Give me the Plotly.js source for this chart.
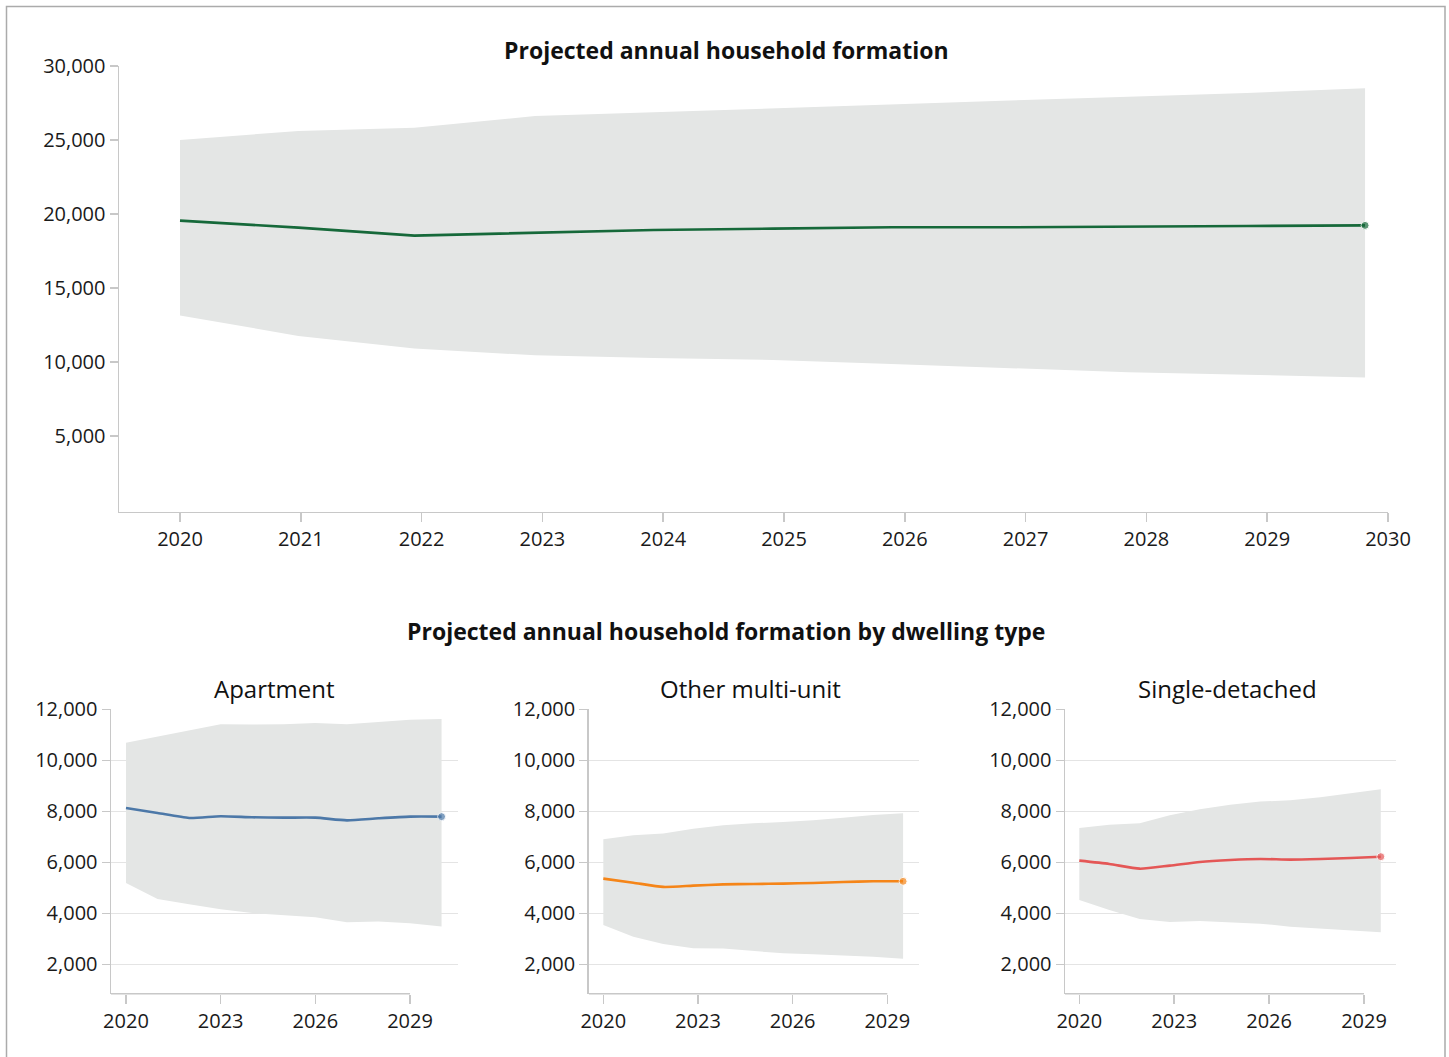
<!DOCTYPE html>
<html>
<head>
<meta charset="utf-8">
<script src="https://cdn.plot.ly/plotly-3.0.1.min.js"></script>
<style>
  html, body { margin: 0; padding: 0; background: #ffffff; overflow: hidden; }
  #chart { width: 1449px; height: 1057px; }
</style>
</head>
<body>
<div id="chart"></div>
<script>
// ---------- Data ----------
const mainTitle = "Projected annual household formation";
const subTitle = "Projected annual household formation by dwelling type";
const panelNames = ["Apartment", "Other multi-unit", "Single-detached"];

// Top chart: total household formation with uncertainty band
const topYears = [2020, 2020.98, 2021.94, 2022.94, 2023.92, 2024.91, 2025.89, 2026.87, 2027.85, 2028.83, 2029.81];
const topMid   = [19550, 19080, 18540, 18740, 18920, 19010, 19100, 19100, 19120, 19190, 19230];
const topLow   = [13150, 11760, 10920, 10450, 10270, 10140, 9870, 9560, 9300, 9140, 8960];
const topHigh  = [25000, 25610, 25830, 26620, 26870, 27140, 27450, 27670, 27930, 28180, 28490];
const topTickYears = [2020, 2021, 2022, 2023, 2024, 2025, 2026, 2027, 2028, 2029, 2030];
const topTickValues = [5000, 10000, 15000, 20000, 25000, 30000];

// Apartment
const aptYears = [2020, 2021, 2022, 2023, 2024, 2025, 2026, 2027, 2028, 2029, 2030];
const aptMid   = [8130, 7935, 7740, 7805, 7765, 7750, 7750, 7645, 7725, 7790, 7790];
const aptLow   = [5190, 4560, 4350, 4160, 4010, 3935, 3845, 3645, 3675, 3610, 3480];
const aptHigh  = [10690, 10930, 11165, 11410, 11400, 11410, 11465, 11410, 11505, 11595, 11620];

// Other multi-unit
const otherYears = [2020, 2020.95, 2021.9, 2022.85, 2023.8, 2024.75, 2025.7, 2026.65, 2027.6, 2028.55, 2029.5];
const otherMid   = [5360, 5200, 5035, 5085, 5135, 5150, 5165, 5190, 5230, 5255, 5255];
const otherLow   = [3540, 3085, 2795, 2625, 2615, 2525, 2430, 2390, 2355, 2300, 2220];
const otherHigh  = [6900, 7060, 7125, 7320, 7450, 7530, 7580, 7645, 7750, 7855, 7920];

// Single-detached
const singleYears = [2020, 2020.95, 2021.91, 2022.86, 2023.81, 2024.77, 2025.72, 2026.67, 2027.62, 2028.58, 2029.53];
const singleMid   = [6065, 5935, 5750, 5870, 6015, 6090, 6130, 6105, 6130, 6170, 6220];
const singleLow   = [4525, 4130, 3780, 3660, 3700, 3645, 3595, 3475, 3410, 3345, 3255];
const singleHigh  = [7345, 7475, 7530, 7845, 8080, 8260, 8380, 8430, 8550, 8705, 8865];

const panelTickYears = [2020, 2023, 2026, 2029];
const panelTickValues = [2000, 4000, 6000, 8000, 10000, 12000];

// ---------- Styling ----------
const W = 1449, H = 1057;
const px = x => x / W;
const py = y => 1 - y / H;
const FONT = '"Open Sans", "Noto Sans", sans-serif';
const AXIS = '#c8c8c8';
const GRID = '#e4e4e4';
const BAND = '#e4e6e5';
const TICKFONT = {family: FONT, size: 20, color: '#1a1a1a'};
const colors = {top: '#16693a', apt: '#4c78a8', other: '#f58518', single: '#e45756'};

function band(x, low, high, xa, ya) {
  return [
    {x: x, y: low, xaxis: xa, yaxis: ya, type: 'scatter', mode: 'lines',
     line: {width: 0, color: BAND}, hoverinfo: 'skip', showlegend: false},
    {x: x, y: high, xaxis: xa, yaxis: ya, type: 'scatter', mode: 'lines',
     line: {width: 0, color: BAND}, fill: 'tonexty', fillcolor: BAND, hoverinfo: 'skip', showlegend: false}
  ];
}
function mid(x, y, xa, ya, color, shape) {
  return {x: x, y: y, xaxis: xa, yaxis: ya, type: 'scatter', mode: 'lines+markers',
    line: {color: color, width: 2.6, shape: shape, smoothing: 0.6},
    marker: {color: color, size: y.map((v, i) => i === y.length - 1 ? 8 : 0)},
    showlegend: false};
}

const traces = [
  ...band(topYears, topLow, topHigh, 'x', 'y'),
  mid(topYears, topMid, 'x', 'y', colors.top, 'linear'),
  ...band(aptYears, aptLow, aptHigh, 'x2', 'y2'),
  mid(aptYears, aptMid, 'x2', 'y2', colors.apt, 'spline'),
  ...band(otherYears, otherLow, otherHigh, 'x3', 'y3'),
  mid(otherYears, otherMid, 'x3', 'y3', colors.other, 'spline'),
  ...band(singleYears, singleLow, singleHigh, 'x4', 'y4'),
  mid(singleYears, singleMid, 'x4', 'y4', colors.single, 'spline')
];

function xAxis(domain, range, tickvals, anchor, showline) {
  return {domain: domain, range: range, tickvals: tickvals, ticktext: tickvals.map(String),
    anchor: anchor, showline: showline, linecolor: AXIS, linewidth: 1.5,
    ticks: 'outside', ticklen: 9, tickcolor: AXIS, tickwidth: 1.5,
    showgrid: false, zeroline: false, tickfont: TICKFONT, fixedrange: true};
}
function yAxis(domain, range, tickvals, anchor, grid) {
  return {domain: domain, range: range, tickvals: tickvals, tickformat: ',d',
    anchor: anchor, showline: true, linecolor: AXIS, linewidth: 1.5,
    ticks: 'outside', ticklen: 8, tickcolor: AXIS, tickwidth: 1.5,
    showgrid: grid, gridcolor: GRID, gridwidth: 1, zeroline: false, tickfont: TICKFONT, fixedrange: true};
}

const panelY = [py(993.7), py(709.3)];
const panelYRange = [847, 12000];
const aptXRange = [2019.525, 2030.511];
const otherXRange = [2019.537, 2030.014];
const singleXRange = [2019.548, 2030.002];

const titleFont = {family: FONT, size: 23, color: '#111'};
const panelFont = {family: FONT, size: 24, color: '#111'};

const layout = {
  width: W, height: H,
  margin: {l: 0, r: 0, t: 0, b: 0},
  paper_bgcolor: 'rgba(0,0,0,0)', plot_bgcolor: 'rgba(0,0,0,0)',
  font: {family: FONT, color: '#1a1a1a'},
  showlegend: false,
  xaxis: xAxis([px(119), px(1388)], [2019.495, 2030.0], topTickYears, 'y', true),
  yaxis: yAxis([py(511.5), py(66)], [-101, 30000], topTickValues, 'x', false),
  xaxis2: xAxis([px(111), px(457.7)], aptXRange, panelTickYears, 'y2', false),
  yaxis2: yAxis(panelY, panelYRange, panelTickValues, 'x2', true),
  xaxis3: xAxis([px(588.7), px(919.3)], otherXRange, panelTickYears, 'y3', false),
  yaxis3: yAxis(panelY, panelYRange, panelTickValues, 'x3', true),
  xaxis4: xAxis([px(1065), px(1395.7)], singleXRange, panelTickYears, 'y4', false),
  yaxis4: yAxis(panelY, panelYRange, panelTickValues, 'x4', true),
  shapes: [
    // outer frame (bottom edge falls outside the picture)
    {type: 'rect', xref: 'paper', yref: 'paper', x0: px(6.5), x1: px(1445), y0: -0.05, y1: py(6.5),
     line: {color: '#ababab', width: 1.5}, layer: 'below'},
    // panel x-axis lines run from the y axis to the last tick
    {type: 'line', xref: 'x2', yref: 'y2 domain', x0: aptXRange[0], x1: panelTickYears[panelTickYears.length - 1], y0: 0, y1: 0,
     line: {color: AXIS, width: 1.5}, layer: 'above'},
    {type: 'line', xref: 'x3', yref: 'y3 domain', x0: otherXRange[0], x1: panelTickYears[panelTickYears.length - 1], y0: 0, y1: 0,
     line: {color: AXIS, width: 1.5}, layer: 'above'},
    {type: 'line', xref: 'x4', yref: 'y4 domain', x0: singleXRange[0], x1: panelTickYears[panelTickYears.length - 1], y0: 0, y1: 0,
     line: {color: AXIS, width: 1.5}, layer: 'above'}
  ],
  annotations: [
    {text: '<b>' + mainTitle + '</b>', xref: 'paper', yref: 'paper', x: px(726), y: py(50),
     xanchor: 'center', yanchor: 'middle', showarrow: false, font: titleFont},
    {text: '<b>' + subTitle + '</b>', xref: 'paper', yref: 'paper', x: px(726), y: py(631),
     xanchor: 'center', yanchor: 'middle', showarrow: false, font: titleFont},
    {text: panelNames[0], xref: 'paper', yref: 'paper', x: px(274), y: py(688),
     xanchor: 'center', yanchor: 'middle', showarrow: false, font: panelFont},
    {text: panelNames[1], xref: 'paper', yref: 'paper', x: px(751), y: py(688),
     xanchor: 'center', yanchor: 'middle', showarrow: false, font: panelFont},
    {text: panelNames[2], xref: 'paper', yref: 'paper', x: px(1227), y: py(688),
     xanchor: 'center', yanchor: 'middle', showarrow: false, font: panelFont}
  ]
};

Plotly.newPlot('chart', traces, layout, {staticPlot: true, displayModeBar: false});
</script>
</body>
</html>
